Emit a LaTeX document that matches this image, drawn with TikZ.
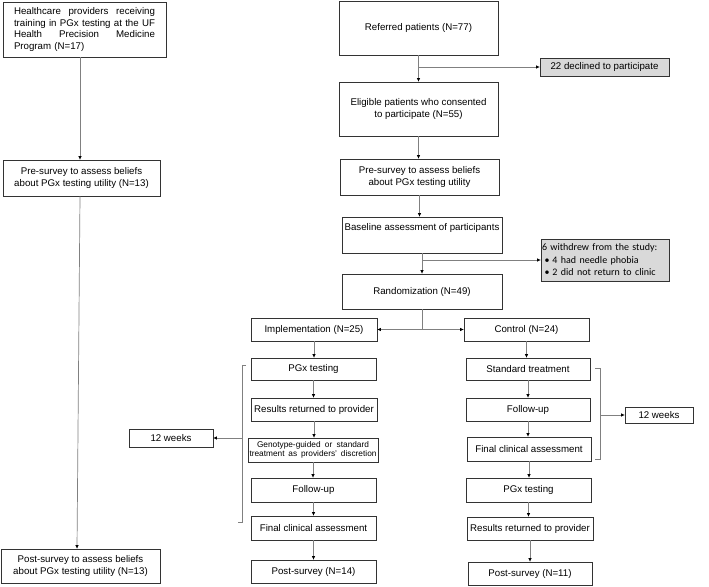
\documentclass[tikz,border=0pt]{standalone}
\usepackage{fontspec}
\setmainfont{Liberation Sans}
\newfontfamily\calib{Carlito}
\usetikzlibrary{arrows.meta}
\begin{document}
\begin{tikzpicture}[x=1pt,y=-1pt,
  box/.style={draw=black!80, line width=0.8pt, inner sep=0pt, align=center, font=\fontsize{9.7}{11.6}\selectfont},
  greybox/.style={box, fill=black!15},
  conn/.style={draw=black!50, line width=0.7pt},
  arr/.style={conn, -{Triangle[length=3.5pt,width=3pt,color=black]}}]
\useasboundingbox (0,0) rectangle (709,586);

% left column
\node[box, minimum width=163pt, minimum height=55pt, text width=141pt, align=left] (L1) at (84.5,29.5)
  {\makebox[141pt][l]{Healthcare\hfill providers\hfill receiving}\\\makebox[141pt][l]{training\hfill in\hfill PGx\hfill testing\hfill at\hfill the\hfill UF}\\\makebox[141pt][l]{Health\hfill Precision\hfill Medicine}\\Program (N=17)};
\node[box, minimum width=157pt, minimum height=36pt] (L2) at (81.5,178)
  {Pre-survey to assess beliefs\\about PGx testing utility (N=13)};
\node[box, minimum width=159pt, minimum height=34pt] (L3) at (80.5,566)
  {Post-survey to assess beliefs\\about PGx testing utility (N=13)};

% centre trunk
\node[box, minimum width=159pt, minimum height=54pt] (Ref) at (418.5,28) {Referred patients (N=77)};
\node[greybox, minimum width=129pt, minimum height=18pt] (Decl) at (604.5,67) {22 declined to participate};
\node[box, minimum width=159pt, minimum height=54pt] (Elig) at (418.5,109)
  {Eligible patients who consented\\to participate (N=55)};
\node[box, minimum width=159pt, minimum height=36pt] (Pre) at (419.5,177)
  {Pre-survey to assess beliefs\\about PGx testing utility};
\node[box, minimum width=160pt, minimum height=36pt] (Base) at (422,235)
  {Baseline assessment of participants\\[4pt]};
\node[greybox, minimum width=128pt, minimum height=42pt, text width=126pt, align=left,
  font=\calib\fontsize{10}{12.5}\selectfont] (Wd) at (605,260)
  {6 withdrew from the study:\\\hspace*{2.5pt}\makebox[8pt][l]{\textbullet}4 had needle phobia\\\hspace*{2.5pt}\makebox[8pt][l]{\textbullet}2 did not return to clinic};
\node[box, minimum width=160pt, minimum height=35pt] (Rand) at (422,291.5) {Randomization (N=49)};

% arms
\node[box, minimum width=126pt, minimum height=23pt] (Impl) at (314,329.5) {Implementation (N=25)};
\node[box, minimum width=125pt, minimum height=23pt] (Ctrl) at (526.5,329.5) {Control (N=24)};

\node[box, minimum width=125pt, minimum height=22pt] (PGx1) at (313.5,369) {PGx testing};
\node[box, minimum width=126pt, minimum height=23pt] (Res1) at (314,409.5) {Results returned to provider};
\node[box, minimum width=130pt, minimum height=24pt, font=\fontsize{8.3}{9.2}\selectfont] (Geno) at (313,450)
  {\makebox[112pt][l]{Genotype-guided\hfill or\hfill standard}\\\makebox[127pt][l]{treatment\hfill as\hfill providers'\hfill discretion}};
\node[box, minimum width=125pt, minimum height=24pt] (Fol1) at (313.5,490) {Follow-up};
\node[box, minimum width=125pt, minimum height=24pt] (Fin1) at (313.5,528) {Final clinical assessment};
\node[box, minimum width=125pt, minimum height=23pt] (Post1) at (313.5,571.5) {Post-survey (N=14)};

\node[box, minimum width=124pt, minimum height=22pt] (Std) at (528,369) {Standard treatment};
\node[box, minimum width=124pt, minimum height=23pt] (Fol2) at (528,409.5) {Follow-up};
\node[box, minimum width=124pt, minimum height=24pt] (Fin2) at (529,449) {Final clinical assessment};
\node[box, minimum width=125pt, minimum height=24pt] (PGx2) at (528.5,490) {PGx testing};
\node[box, minimum width=126pt, minimum height=23pt] (Res2) at (530,528.5) {Results returned to provider};
\node[box, minimum width=124pt, minimum height=23pt] (Post2) at (530,573.5) {Post-survey (N=11)};

\node[box, minimum width=84pt, minimum height=18pt] (W1) at (171,438) {12 weeks};
\node[box, minimum width=68pt, minimum height=16pt] (W2) at (659,415) {12 weeks};

% left column connectors
\draw[arr] ([xshift=-4.5pt]L1.south) -- ([xshift=-4.5pt]L1.south |- L2.north);
\draw[arr] ([xshift=-1.5pt]L2.south) -- ([xshift=-3.5pt]L3.north);

% trunk connectors
\draw[arr] (Ref.south) -- (Ref.south |- Elig.north);
\draw[arr] (Ref.south |- Decl.west) -- (Decl.west);
\draw[arr] (Elig.south) -- (Elig.south |- Pre.north);
\draw[arr] (Pre.south) -- (Pre.south |- Base.north);
\draw[arr] (Base.south) -- (Base.south |- Rand.north);
\draw[arr] (Base.south |- Wd.west) -- (Wd.west);
\coordinate (rb) at (Rand.south |- Impl.east);
\draw[conn] (Rand.south) -- (rb);
\draw[arr] (rb) -- (Impl.east);
\draw[arr] (rb) -- (Ctrl.west);

\foreach \a/\b in {Impl/PGx1,PGx1/Res1,Res1/Geno,Geno/Fol1,Fol1/Fin1,Fin1/Post1,
                   Ctrl/Std,Std/Fol2,Fol2/Fin2,Fin2/PGx2,PGx2/Res2,Res2/Post2}
  \draw[arr] (\a.south) -- (\a.south |- \b.north);

% brackets
\coordinate (bk1) at (242,438);
\coordinate (bk2) at (600,415);
\draw[conn] (246,365) -- (242,365) -- (242,522) -- (238,522);
\draw[conn] (595,368) -- (600,368) -- (600,459) -- (595,459);
\draw[arr] (bk1) -- (W1.east);
\draw[arr] (bk2) -- (W2.west);
\end{tikzpicture}
\end{document}
